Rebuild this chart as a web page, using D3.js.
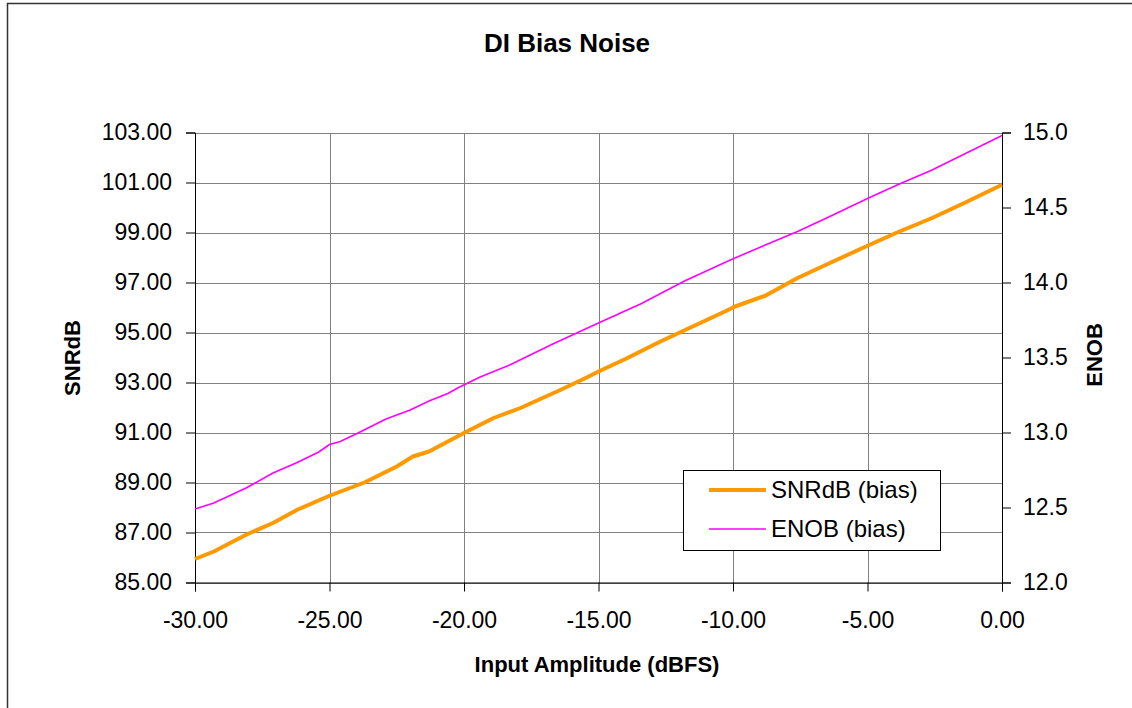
<!DOCTYPE html>
<html><head><meta charset="utf-8">
<script src="https://cdn.jsdelivr.net/npm/d3@7"></script>
<style>
body{margin:0;background:#fff;}
text{font-family:"Liberation Sans",Arial,Helvetica,sans-serif;fill:#000;}
</style></head>
<body><svg id="c" width="1132" height="708"></svg>
<script>
// Data
const snrX = [-30,-29.3,-28.1,-27.1,-26.2,-25,-23.7,-22.5,-21.9,-21.3,-20,-18.9,-17.9,-16.4,-15.4,-15,-14,-12.7,-11.5,-10.3,-9.9,-8.8,-7.6,-6.4,-5,-3.9,-2.6,-1.4,0];
const snrY = [85.94,86.24,86.91,87.38,87.91,88.47,89.0,89.64,90.04,90.24,90.98,91.58,91.98,92.71,93.22,93.44,93.94,94.64,95.24,95.84,96.05,96.47,97.18,97.78,98.47,99.0,99.58,100.18,100.91];
const enobX = [-30,-29.3,-28.1,-27.1,-26.2,-25.4,-25,-24.6,-23.9,-22.9,-22,-21.3,-20.6,-20.2,-19.4,-18.3,-16.7,-15,-13.4,-11.8,-10.1,-8.8,-7.6,-6.4,-5,-3.9,-2.6,0];
const enobY = [12.49,12.53,12.63,12.73,12.80,12.87,12.92,12.94,13.00,13.09,13.15,13.21,13.26,13.30,13.37,13.45,13.59,13.73,13.86,14.01,14.15,14.25,14.34,14.44,14.56,14.65,14.75,14.98];
const xTicks = [-30,-25,-20,-15,-10,-5,0];
const yLeftTicks = [85,87,89,91,93,95,97,99,101,103];
const yRightTicks = [12.0,12.5,13.0,13.5,14.0,14.5,15.0];
const seriesNames = ["SNRdB (bias)","ENOB (bias)"];
const seriesColors = ["#FF9900","#FF00FF"];

const svg = d3.select("#c");
const L=195, R=1002, T=132.5, B=582.5;
const x = d3.scaleLinear().domain([-30,0]).range([L,R]);
const yL = d3.scaleLinear().domain([85,103]).range([B,T]);
const yR = d3.scaleLinear().domain([12,15]).range([B,T]);
const fmt = p => d => d.toFixed(p);

// outer frame
svg.append("rect").attr("x",7.5).attr("y",3.5).attr("width",1140).attr("height",720)
  .attr("fill","#fff").attr("stroke","#333").attr("stroke-width",1.5);

// title
svg.append("text").attr("x",567).attr("y",52).attr("text-anchor","middle")
  .style("font-weight","bold").style("font-size","26px").text("DI Bias Noise");

// gridlines
const g = svg.append("g").attr("shape-rendering","crispEdges");
g.selectAll(".hg").data(yLeftTicks).enter().append("line")
  .attr("x1",L).attr("x2",R).attr("y1",d=>Math.round(yL(d))+0.5).attr("y2",d=>Math.round(yL(d))+0.5)
  .attr("stroke","#808080").attr("stroke-width",1);
g.selectAll(".vg").data(xTicks).enter().append("line")
  .attr("y1",T).attr("y2",B).attr("x1",d=>Math.round(x(d))+0.5).attr("x2",d=>Math.round(x(d))+0.5)
  .attr("stroke","#808080").attr("stroke-width",1);

// axes
const axL = d3.axisLeft(yL).tickValues(yLeftTicks).tickFormat(fmt(2)).tickSize(9).tickPadding(14);
const axR = d3.axisRight(yR).tickValues(yRightTicks).tickFormat(fmt(1)).tickSize(9).tickPadding(12);
const axB = d3.axisBottom(x).tickValues(xTicks).tickFormat(fmt(2)).tickSize(9).tickPadding(20);
function style(sel){
  sel.select(".domain").attr("stroke","#000");
  sel.selectAll(".tick line").attr("stroke","#000");
  sel.selectAll("text").style("font-size","23px").attr("fill","#000")
    .style("font-family","'Liberation Sans',Arial,sans-serif");
}
svg.append("g").attr("transform",`translate(${L},0)`).call(axL).call(style);
svg.append("g").attr("transform",`translate(${R},0)`).call(axR).call(style);
svg.append("g").attr("transform",`translate(0,${B})`).call(axB).call(style);

// lines
const lineL = d3.line().x((d,i)=>x(snrX[i])).y(d=>yL(d));
const lineR = d3.line().x((d,i)=>x(enobX[i])).y(d=>yR(d));
svg.append("path").datum(enobY).attr("d",lineR).attr("fill","none")
  .attr("stroke",seriesColors[1]).attr("stroke-width",1.6);
svg.append("path").datum(snrY).attr("d",lineL).attr("fill","none")
  .attr("stroke",seriesColors[0]).attr("stroke-width",4).attr("stroke-linejoin","round");

// axis titles
svg.append("text").attr("x",597).attr("y",672).attr("text-anchor","middle")
  .style("font-weight","bold").style("font-size","22px").text("Input Amplitude (dBFS)");
svg.append("text").attr("transform","translate(80,358) rotate(-90)").attr("text-anchor","middle")
  .style("font-weight","bold").style("font-size","22px").text("SNRdB");
svg.append("text").attr("transform","translate(1102,355) rotate(-90)").attr("text-anchor","middle")
  .style("font-weight","bold").style("font-size","22px").text("ENOB");

// legend
const lg = svg.append("g");
lg.append("rect").attr("x",683.5).attr("y",470.5).attr("width",257).attr("height",80)
  .attr("fill","#fff").attr("stroke","#000").attr("stroke-width",1);
const lw = [4,1.6], ly=[490,529];
seriesNames.forEach((n,i)=>{
  lg.append("line").attr("x1",709).attr("x2",766).attr("y1",ly[i]).attr("y2",ly[i])
    .attr("stroke",seriesColors[i]).attr("stroke-width",lw[i]);
  lg.append("text").attr("x",771).attr("y",ly[i]+8).style("font-size","24px").text(n);
});
</script></body></html>
